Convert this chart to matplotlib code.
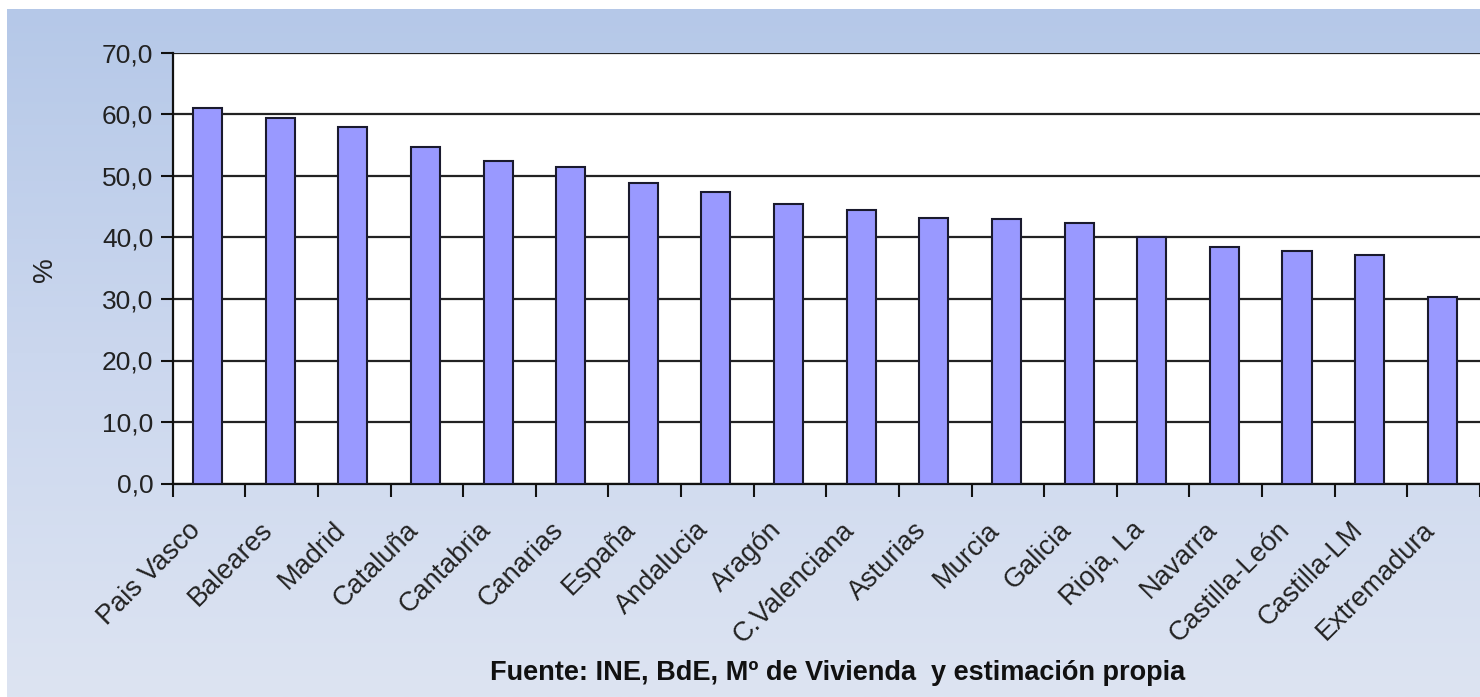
import numpy as np
import matplotlib
matplotlib.use("Agg")
import matplotlib.pyplot as plt
from matplotlib.colors import LinearSegmentedColormap

categories = ["Pais Vasco", "Baleares", "Madrid", "Cataluña", "Cantabria", "Canarias",
              "España", "Andalucia", "Aragón", "C.Valenciana", "Asturias", "Murcia",
              "Galicia", "Rioja, La", "Navarra", "Castilla-León", "Castilla-LM", "Extremadura"]
values = [61.1, 59.4, 57.9, 54.7, 52.4, 51.4,
          48.9, 47.4, 45.5, 44.5, 43.2, 43.0,
          42.4, 40.0, 38.5, 37.8, 37.2, 30.3]
yticks = [0, 10, 20, 30, 40, 50, 60, 70]
ytick_labels = ["0,0", "10,0", "20,0", "30,0", "40,0", "50,0", "60,0", "70,0"]
source_text = "Fuente: INE, BdE, Mº de Vivienda  y estimación propia"

plt.rcParams['font.family'] = ['Liberation Sans', 'DejaVu Sans']

W, H = 1480, 697
fig = plt.figure(figsize=(W / 100, H / 100), dpi=100, facecolor="white")

# gradient background of the chart area
bg = fig.add_axes([7 / W, 0, 1 - 7 / W, (H - 9) / H])
bg.set_axis_off()
cmap = LinearSegmentedColormap.from_list("bg", ["#dde4f2", "#cbd7ee", "#b5c8e8"])
grad = np.linspace(0, 1, 256).reshape(-1, 1)
bg.imshow(grad, aspect="auto", cmap=cmap, origin="lower", extent=[0, 1, 0, 1])
bg.set_xlim(0, 1)
bg.set_ylim(0, 1)

left_px, top_px, bottom_px = 172.7, 53.0, 483.5
cat_w = 73.3
ax = fig.add_axes([left_px / W, (H - bottom_px) / H, (W - left_px) / W, (bottom_px - top_px) / H])
ax.set_facecolor("white")

x = np.arange(len(categories))
ax.bar(x - 0.02, values, width=0.4, color="#9999ff", edgecolor="#1a1a2e", linewidth=1.5, zorder=3)

ax.set_xlim(-0.5, -0.5 + (W - left_px) / cat_w)
ax.set_ylim(0, 70)
ax.set_yticks(yticks)
ax.set_yticklabels(ytick_labels, fontsize=19, color="#222222")
ax.tick_params(axis="y", length=9, width=1.5, color="#111111", pad=5)
ax.grid(axis="y", color="#222222", linewidth=1.6, zorder=1)
ax.set_axisbelow(True)

ax.set_xticks(x - 0.3)
ax.set_xticklabels(categories, rotation=45, ha="right", rotation_mode="anchor",
                   fontsize=19.5, color="#222222")
ax.tick_params(axis="x", which="major", length=0, pad=24)
ax.set_xticks(np.arange(-0.5, len(categories), 1.0), minor=True)
ax.tick_params(axis="x", which="minor", length=9, width=1.5, color="#111111")

for s in ["top", "right"]:
    ax.spines[s].set_visible(False)
for s in ["left", "bottom"]:
    ax.spines[s].set_color("#111111")
    ax.spines[s].set_linewidth(1.6)

fig.text(45 / W, 1 - 270 / H, "%", rotation=90, fontsize=20, ha="center", va="center", color="#222222")
fig.text(838 / W, 1 - 673 / H, source_text, fontsize=19.5, fontweight="bold",
         ha="center", va="center", color="#111111")

fig.savefig("out.png", dpi=100, facecolor="white")
